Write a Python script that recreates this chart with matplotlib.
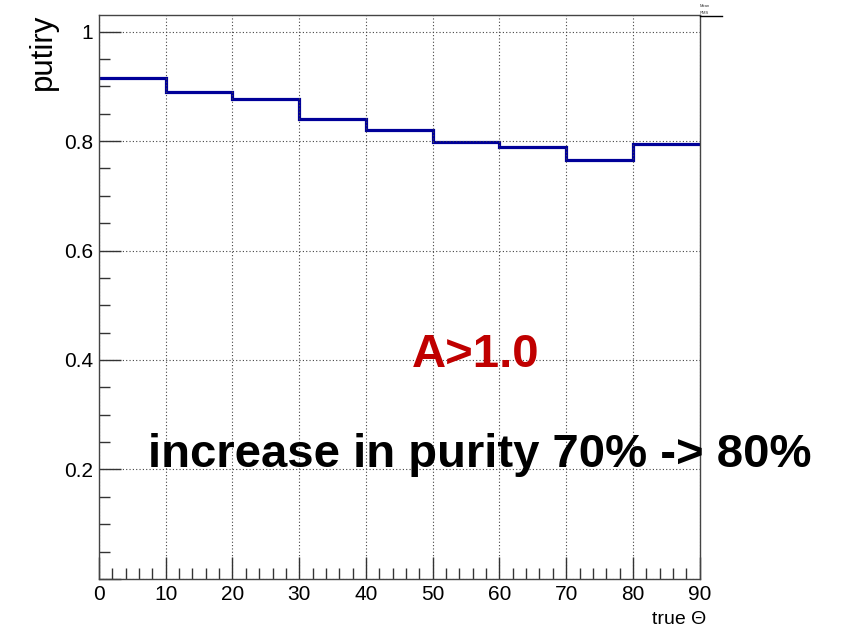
import numpy as np
import matplotlib.pyplot as plt
from matplotlib.ticker import MultipleLocator, FuncFormatter

plt.rcParams['font.family'] = ['Liberation Sans', 'DejaVu Sans']

# purity per 10-degree bin of true theta
bin_edges = [0, 10, 20, 30, 40, 50, 60, 70, 80, 90]
purity = [0.915, 0.890, 0.877, 0.841, 0.820, 0.798, 0.790, 0.766, 0.795]

fig = plt.figure(figsize=(8.43, 6.30), dpi=100)
ax = fig.add_axes([0.1174, 0.081, 0.7126, 0.895])

# histogram drawn as a step outline
ax.stairs(purity, bin_edges, color='#000099', linewidth=2.3, baseline=None)

ax.set_xlim(0, 90)
ax.set_ylim(0, 1.03)

ax.xaxis.set_major_locator(MultipleLocator(10))
ax.xaxis.set_minor_locator(MultipleLocator(2))
ax.yaxis.set_major_locator(MultipleLocator(0.2))
ax.yaxis.set_minor_locator(MultipleLocator(0.05))

def ylab(v, pos):
    if v < 1e-6:
        return ''
    if abs(v - 1) < 1e-6:
        return '1'
    return f'{v:.1f}'

ax.yaxis.set_major_formatter(FuncFormatter(ylab))
ax.tick_params(which='both', direction='in', top=False, right=False,
               labelsize=15, color='#333333', width=1)
ax.tick_params(which='major', length=16, pad=4)
ax.tick_params(which='minor', length=8)

ax.grid(True, which='major', linestyle=(0, (1, 2)), color='#444444', linewidth=0.8)

for s in ax.spines.values():
    s.set_color('#444444')
    s.set_linewidth(1.0)

# axis titles
fig.text(0.8375, 0.009, 'true \u0398', ha='right', va='baseline', fontsize=14)
fig.text(0.033, 0.978, 'putiry', rotation=90, ha='left', va='top', fontsize=22.5)

fig.text(0.5647, 0.4175, 'A>1.0', ha='center', va='baseline',
         fontsize=34, fontweight='bold', color='#c00000')
fig.text(0.5694, 0.2587, 'increase in purity 70% -> 80%', ha='center', va='baseline',
         fontsize=34, fontweight='bold', color='black')

# leftover corner of the stats box
fig.add_artist(plt.Line2D([0.830, 0.857], [0.975, 0.975], color='black', linewidth=1.0))
fig.text(0.8305, 0.993, 'Mean', fontsize=3, va='top', ha='left', color='#333333')
fig.text(0.8305, 0.982, 'RMS', fontsize=3, va='top', ha='left', color='#333333')

fig.savefig('out.png', dpi=100)
